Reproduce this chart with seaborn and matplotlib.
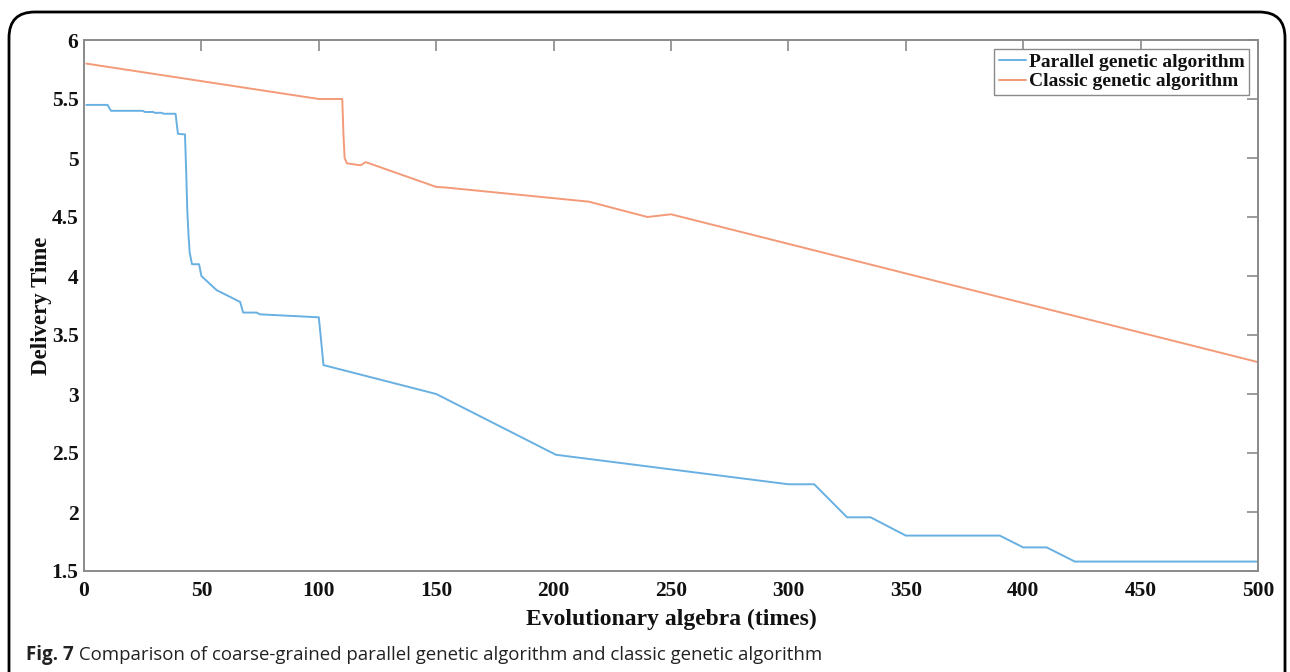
import matplotlib
matplotlib.use("Agg")
import matplotlib.pyplot as plt
from matplotlib.patches import FancyBboxPatch
import seaborn as sns
import pandas as pd

# ---- data ----
parallel_x = [1, 10, 11.5, 25, 26, 29.5, 30, 33, 34, 39, 40, 43, 43.5, 44, 44.5, 45, 46, 49, 50,
              56.5, 66.5, 67.8, 73.5, 75, 100, 101, 102, 150, 151.5, 201, 300, 311, 325, 335,
              350, 390, 400, 410, 422, 500]
parallel_y = [5.45, 5.45, 5.40, 5.40, 5.39, 5.39, 5.383, 5.383, 5.375, 5.375, 5.205, 5.20, 4.90, 4.55,
              4.35, 4.20, 4.10, 4.10, 4.00, 3.88, 3.78, 3.69, 3.69, 3.675, 3.65, 3.45, 3.245,
              3.00, 2.985, 2.485, 2.235, 2.235, 1.955, 1.955, 1.80, 1.80, 1.70, 1.70, 1.58, 1.58]

classic_x = [1, 100, 110, 110.5, 111, 112, 117, 118, 120, 150, 154, 215, 240, 250, 500]
classic_y = [5.80, 5.50, 5.50, 5.20, 5.00, 4.955, 4.94, 4.94, 4.965, 4.755, 4.75, 4.63, 4.50, 4.523, 3.27]

series_names = ["Parallel genetic algorithm", "Classic genetic algorithm"]
x_ticks = [0, 50, 100, 150, 200, 250, 300, 350, 400, 450, 500]
y_ticks = [1.5, 2, 2.5, 3, 3.5, 4, 4.5, 5, 5.5, 6]
y_tick_labels = ["1.5", "2", "2.5", "3", "3.5", "4", "4.5", "5", "5.5", "6"]
x_label = "Evolutionary algebra (times)"
y_label = "Delivery Time"
caption_bold = "Fig. 7"
caption_text = " Comparison of coarse-grained parallel genetic algorithm and classic genetic algorithm"

colors = ["#68B0E2", "#F39A78"]

df = pd.concat([
    pd.DataFrame({"x": parallel_x, "y": parallel_y, "series": series_names[0]}),
    pd.DataFrame({"x": classic_x, "y": classic_y, "series": series_names[1]}),
], ignore_index=True)

sns.set_theme(style="white")
plt.rcParams["font.family"] = ["Liberation Serif", "DejaVu Serif"]

fig = plt.figure(figsize=(12.9, 6.72), dpi=100)
ax = fig.add_axes([84 / 1290, 1 - 571 / 672, (1258 - 84) / 1290, (571 - 40) / 672])

sns.lineplot(data=df, x="x", y="y", hue="series", palette=colors, sort=False,
             estimator=None, linewidth=1.4, ax=ax, legend=True)

ax.set_xlim(0, 500)
ax.set_ylim(1.5, 6)
ax.set_xticks(x_ticks)
ax.set_xticklabels([str(t) for t in x_ticks])
ax.set_yticks(y_ticks)
ax.set_yticklabels(y_tick_labels)

spine_color = "#8a8a8a"
for s in ax.spines.values():
    s.set_visible(True)
    s.set_color(spine_color)
    s.set_linewidth(1.4)

ax.tick_params(axis="both", which="major", direction="in", length=8, width=1.2,
               color=spine_color, top=True, right=True, labelsize=15.5,
               labelcolor="#111111")
ax.tick_params(axis="x", pad=7)
ax.tick_params(axis="y", pad=4)
for lab in ax.get_xticklabels() + ax.get_yticklabels():
    lab.set_fontweight("bold")

ax.set_xlabel(x_label, fontsize=17, fontweight="bold", color="#111111", labelpad=6)
ax.set_ylabel(y_label, fontsize=16.5, fontweight="bold", color="#111111", labelpad=0)

leg = ax.legend(loc="upper right", frameon=True, fancybox=False, framealpha=1,
                edgecolor=spine_color, handlelength=1.4,
                handletextpad=0.12, borderaxespad=0.45, borderpad=0.25,
                labelspacing=0.08, prop={"weight": "bold", "size": 14})
leg.get_frame().set_linewidth(1.0)
for t in leg.get_texts():
    t.set_color("#111111")
for h in leg.get_lines():
    h.set_linewidth(1.4)

# rounded frame around the figure
frame = FancyBboxPatch((9 / 1290, -0.1), (1285 - 9) / 1290, (1 - 12 / 672) + 0.1,
                       boxstyle="round,pad=0,rounding_size=0.02",
                       transform=fig.transFigure, fill=False, edgecolor="black",
                       linewidth=2.0, clip_on=False, mutation_aspect=1290 / 672)
fig.patches.append(frame)

# caption
cap_font = ["Open Sans", "DejaVu Sans"]
t1 = fig.text(26 / 1290, 1 - 655 / 672, caption_bold, fontsize=13.5, fontweight="bold",
              family=cap_font, va="center", ha="left", color="#222222")
fig.canvas.draw()
bb = t1.get_window_extent()
fig.text(bb.x1 / 1290, 1 - 655 / 672, caption_text, fontsize=13.4, family=cap_font,
         va="center", ha="left", color="#222222")

fig.savefig("out.png", dpi=100)
